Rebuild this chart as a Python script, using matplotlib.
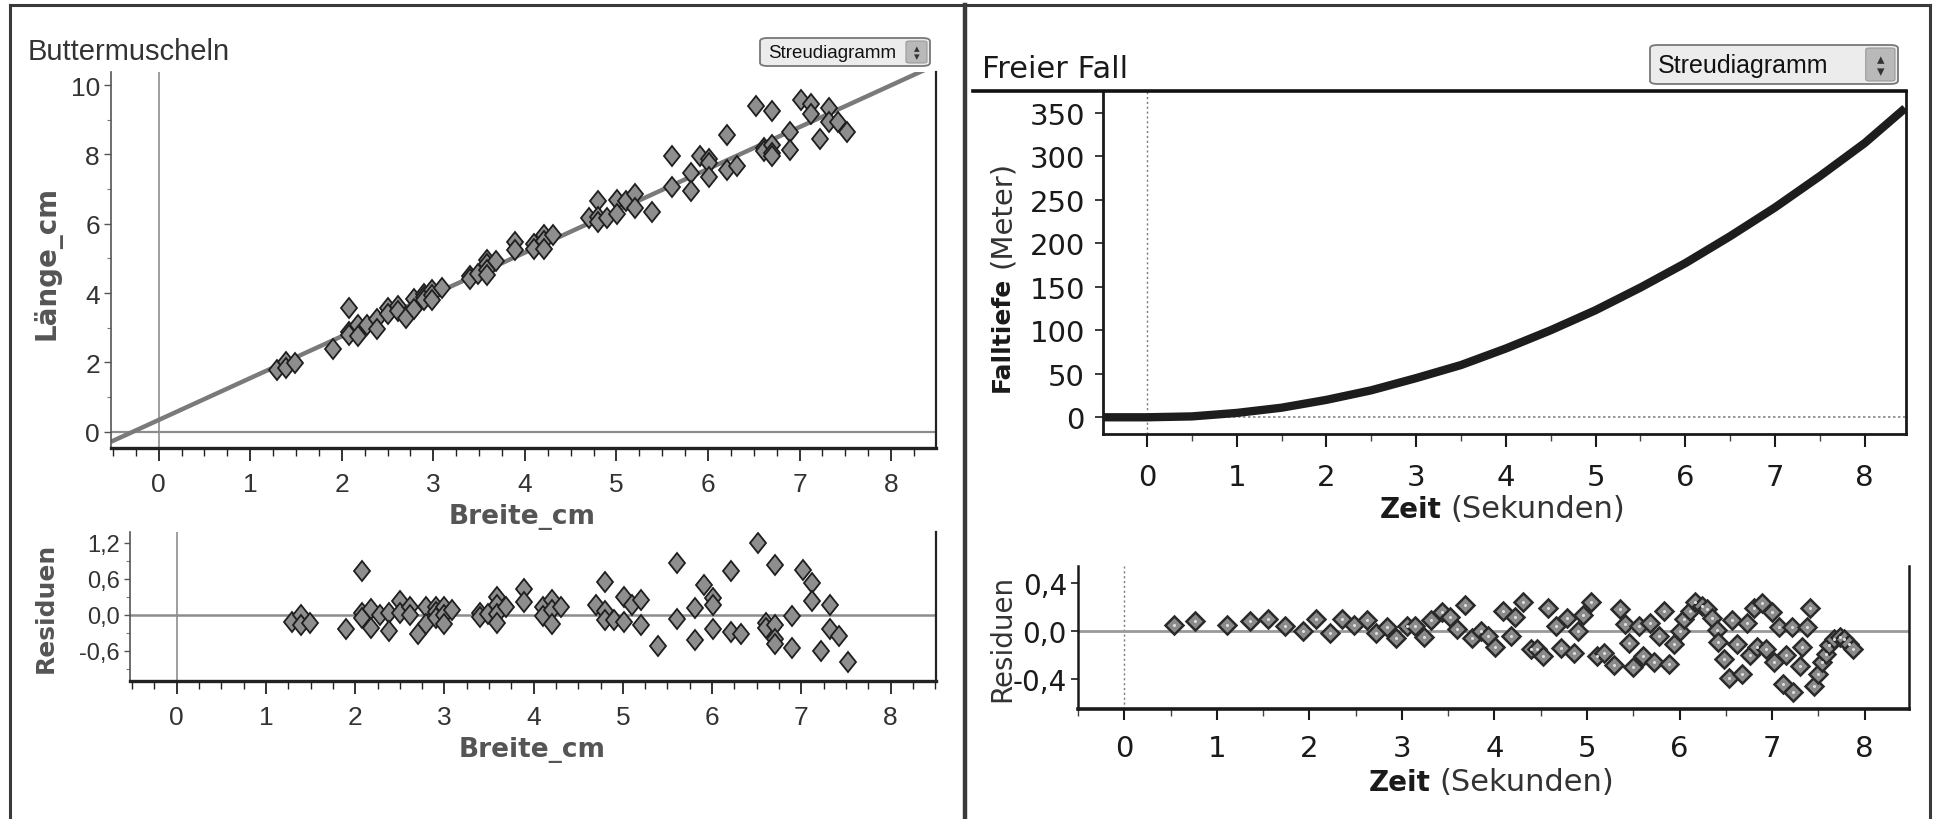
import matplotlib
matplotlib.use("Agg")
import matplotlib.pyplot as plt
from matplotlib.lines import Line2D
from matplotlib.markers import MarkerStyle
from matplotlib.patches import FancyBboxPatch
from matplotlib.ticker import FixedLocator, MultipleLocator
from matplotlib.transforms import Affine2D

# --- Daten: Buttermuscheln ---
breite = [1.29, 1.39, 1.39, 1.49, 1.90, 2.08, 2.08, 2.08, 2.18, 2.18, 2.28, 2.38, 2.38,
          2.50, 2.50, 2.61, 2.61, 2.70, 2.79, 2.79, 2.90, 2.90, 2.90, 2.99, 2.99, 2.99,
          3.09, 3.40, 3.40, 3.49, 3.59, 3.59, 3.59, 3.59, 3.69, 3.89, 3.89, 4.10, 4.10,
          4.21, 4.21, 4.21, 4.31, 4.70, 4.80, 4.80, 4.80, 4.90, 5.01, 5.01, 5.10, 5.20,
          5.20, 5.39, 5.61, 5.61, 5.81, 5.81, 5.91, 6.01, 6.01, 6.01, 6.21, 6.21, 6.32,
          6.52, 6.61, 6.61, 6.70, 6.70, 6.70, 6.70, 6.90, 6.90, 7.02, 7.12, 7.12, 7.22,
          7.32, 7.32, 7.42, 7.52]
laenge = [1.78, 2.01, 1.85, 1.99, 2.39, 3.58, 2.89, 2.80, 3.07, 2.76, 3.09, 3.25, 2.95,
          3.58, 3.39, 3.62, 3.49, 3.29, 3.83, 3.55, 3.98, 3.89, 3.79, 4.08, 3.95, 3.80,
          4.16, 4.48, 4.40, 4.56, 4.96, 4.83, 4.68, 4.53, 4.92, 5.46, 5.24, 5.42, 5.28,
          5.67, 5.51, 5.27, 5.67, 6.17, 6.67, 6.19, 6.04, 6.16, 6.69, 6.28, 6.67, 6.87,
          6.46, 6.34, 7.97, 7.05, 7.47, 6.94, 7.97, 7.87, 7.76, 7.35, 8.57, 7.56, 7.66,
          9.40, 8.18, 8.11, 9.26, 8.26, 8.03, 7.95, 8.65, 8.12, 9.56, 9.47, 9.17, 8.46,
          9.35, 8.94, 8.95, 8.64]
residuen = [-0.11, 0.00, -0.16, -0.14, -0.24, 0.73, 0.04, -0.05, 0.10, -0.21, 0.00, 0.04, -0.26,
            0.23, 0.04, 0.13, 0.00, -0.31, 0.13, -0.15, 0.14, 0.05, -0.05, 0.13, 0.00, -0.15,
            0.09, 0.04, -0.04, 0.01, 0.29, 0.16, 0.01, -0.14, 0.13, 0.43, 0.21, 0.13, -0.01,
            0.25, 0.09, -0.15, 0.13, 0.16, 0.54, 0.06, -0.09, -0.09, 0.30, -0.11, 0.17, 0.25,
            -0.16, -0.51, 0.86, -0.06, 0.12, -0.41, 0.50, 0.28, 0.17, -0.24, 0.73, -0.28, -0.31,
            1.19, -0.14, -0.21, 0.83, -0.17, -0.40, -0.48, -0.02, -0.55, 0.75, 0.53, 0.23, -0.60,
            0.17, -0.24, -0.35, -0.78]
gerade_x = [-0.52, 8.49]
gerade_y = [-0.29, 10.59]

links_yticks = [0, 2, 4, 6, 8, 10]
links_xticks = [0, 1, 2, 3, 4, 5, 6, 7, 8]
links_res_ticks = [-0.6, 0.0, 0.6, 1.2]
links_res_labels = ["-0,6", "0,0", "0,6", "1,2"]

# --- Daten: Freier Fall ---
zeit = [-0.5, 0, 0.5, 1, 1.5, 2, 2.5, 3, 3.5, 4, 4.5, 5, 5.5, 6, 6.5, 7, 7.5, 8, 8.45]
tiefe = [0, 0, 1, 5, 11, 20, 31, 45, 60, 79, 100, 123, 149, 177, 208, 241, 277, 315, 355]

zeit_res = [0.54, 0.76, 1.11, 1.36, 1.55, 1.74, 1.93, 2.07, 2.22, 2.35, 2.48, 2.62, 2.72,
            2.84, 2.94, 3.05, 3.14, 3.24, 3.32, 3.43, 3.52, 3.60, 3.68, 3.76, 3.85, 3.93,
            4.01, 4.09, 4.18, 4.22, 4.31, 4.39, 4.46, 4.53, 4.58, 4.66, 4.72, 4.78, 4.86,
            4.90, 4.96, 5.04, 5.11, 5.18, 5.29, 5.36, 5.41, 5.45, 5.50, 5.56, 5.61, 5.68,
            5.72, 5.78, 5.83, 5.89, 5.94, 6.00, 6.05, 6.11, 6.17, 6.24, 6.30, 6.35, 6.40,
            6.42, 6.48, 6.53, 6.57, 6.62, 6.67, 6.73, 6.76, 6.80, 6.84, 6.89, 6.94, 7.00,
            7.02, 7.08, 7.12, 7.15, 7.22, 7.23, 7.30, 7.32, 7.38, 7.41, 7.45, 7.50, 7.54,
            7.58, 7.62, 7.67, 7.73, 7.78, 7.83, 7.88]
res_fall = [0.05, 0.08, 0.05, 0.08, 0.10, 0.04, 0.00, 0.10, -0.02, 0.10, 0.05, 0.09, -0.02,
            0.03, -0.06, 0.04, 0.04, -0.05, 0.09, 0.16, 0.12, 0.02, 0.22, -0.06, 0.00, -0.04,
            -0.13, 0.17, -0.04, 0.12, 0.24, -0.15, -0.15, -0.21, 0.19, 0.04, -0.14, 0.11, -0.18,
            0.00, 0.13, 0.24, -0.21, -0.18, -0.28, 0.18, 0.06, -0.10, -0.30, 0.04, -0.21, 0.07,
            -0.26, -0.04, 0.17, -0.27, -0.11, 0.00, 0.10, 0.17, 0.24, 0.21, 0.18, 0.11, 0.01,
            -0.09, -0.23, -0.39, 0.09, -0.11, -0.36, 0.07, -0.20, 0.19, -0.13, 0.23, -0.15, 0.16,
            -0.26, 0.03, -0.44, -0.20, 0.03, -0.51, -0.29, -0.13, 0.03, 0.19, -0.46, -0.36, -0.26,
            -0.19, -0.12, -0.07, -0.05, -0.07, -0.11, -0.15]

rechts_yticks = [0, 50, 100, 150, 200, 250, 300, 350]
rechts_res_ticks = [-0.4, 0.0, 0.4]
rechts_res_labels = ["-0,4", "0,0", "0,4"]

W, H = 1934, 820


def box(x0, y0, x1, y1):
    return [x0 / W, 1 - y1 / H, (x1 - x0) / W, (y1 - y0) / H]


def fx(x):
    return x / W


def fy(y):
    return 1 - y / H


fig = plt.figure(figsize=(W / 100, H / 100), dpi=100)
fig.patch.set_facecolor("white")

LIB = "Liberation Sans"
DJV = "DejaVu Sans"

# leicht gestauchte Raute wie im Original
raute = MarkerStyle("D", transform=Affine2D().scale(0.82, 1.05))

# Rahmen
for xs, ys, lw in [([10, 1930], [6, 6], 2.2), ([10, 10], [6, 820], 2.2),
                   ([964.5, 964.5], [6, 820], 3.2), ([1930, 1930], [6, 820], 2.2)]:
    fig.add_artist(Line2D([fx(v) for v in xs], [fy(v) for v in ys], color="#3a3a3a", lw=lw))


def dropdown(x0, y0, x1, y1, size):
    fig.add_artist(FancyBboxPatch((fx(x0), fy(y1)), fx(x1 - x0), (y1 - y0) / H,
                                  boxstyle="round,pad=0,rounding_size=0.004",
                                  fc="#ececec", ec="#777777", lw=1.3, transform=fig.transFigure))
    aw = (y1 - y0) * 0.75
    fig.add_artist(FancyBboxPatch((fx(x1 - aw - 3), fy(y1 - 3)), fx(aw), (y1 - y0 - 6) / H,
                                  boxstyle="round,pad=0,rounding_size=0.002",
                                  fc="#b9b9b9", ec="#9a9a9a", lw=0.8, transform=fig.transFigure))
    xm = fx(x1 - aw / 2 - 3)
    fig.text(xm, fy(y0 + (y1 - y0) * 0.36), "\u25b4", ha="center", va="center",
             fontsize=size * 0.6, color="#333333", family=DJV)
    fig.text(xm, fy(y0 + (y1 - y0) * 0.66), "\u25be", ha="center", va="center",
             fontsize=size * 0.6, color="#333333", family=DJV)
    fig.text(fx(x0 + 8), fy((y0 + y1) / 2), "Streudiagramm", ha="left", va="center",
             fontsize=size, color="#111111", family=LIB)


# ===================== Links oben =====================
ax1 = fig.add_axes(box(111, 73, 936, 449))
ax1.set_xlim(-0.52, 8.49)
ax1.set_ylim(-0.47, 10.38)
ax1.axvline(0, color="#8d8d8d", lw=1.2, zorder=1)
ax1.axhline(0, color="#8d8d8d", lw=1.6, zorder=1)
ax1.plot(gerade_x, gerade_y, color="#7a7a7a", lw=3.2, zorder=2, solid_capstyle="butt")
ax1.plot(breite, laenge, ls="none", marker=raute, ms=10, mfc="#8e8e8e", mec="#1e1e1e",
         mew=1.3, zorder=3)
ax1.xaxis.set_major_locator(FixedLocator(links_xticks))
ax1.xaxis.set_minor_locator(MultipleLocator(0.25))
ax1.yaxis.set_major_locator(FixedLocator(links_yticks))
ax1.yaxis.set_minor_locator(MultipleLocator(1))
ax1.spines["top"].set_visible(False)
ax1.spines["left"].set_color("#555555")
ax1.spines["left"].set_linewidth(1.2)
ax1.spines["bottom"].set_color("#222222")
ax1.spines["bottom"].set_linewidth(2.4)
ax1.spines["right"].set_color("#222222")
ax1.spines["right"].set_linewidth(1.6)
ax1.tick_params(axis="x", which="major", length=9, width=1.3, color="#222222", pad=8,
                labelsize=19, labelcolor="#333333")
ax1.tick_params(axis="x", which="minor", length=6, width=1.0, color="#222222")
ax1.tick_params(axis="y", which="major", length=5, width=1.0, color="#555555", pad=3,
                labelsize=19, labelcolor="#333333")
ax1.tick_params(axis="y", which="minor", length=3, width=0.8, color="#777777")
for lab in ax1.get_xticklabels() + ax1.get_yticklabels():
    lab.set_family(LIB)
fig.text(fx(28), fy(52), "Buttermuscheln", ha="left", va="center", fontsize=21,
         color="#333333", family=LIB)
fig.text(fx(47), fy(263), "Länge_cm", ha="center", va="center", rotation=90,
         fontsize=20, fontweight="bold", color="#555555", family=DJV)
fig.text(fx(522), fy(517), "Breite_cm", ha="center", va="center",
         fontsize=19, fontweight="bold", color="#555555", family=DJV)
dropdown(760, 39, 930, 67, 13.5)

# ===================== Links unten =====================
ax2 = fig.add_axes(box(129.5, 533, 936, 682))
ax2.set_xlim(-0.53, 8.51)
ax2.set_ylim(-1.1, 1.38)
ax2.axvline(0, color="#8d8d8d", lw=1.2, zorder=1)
ax2.axhline(0, color="#8d8d8d", lw=1.8, zorder=1)
ax2.plot(breite, residuen, ls="none", marker=raute, ms=10, mfc="#8e8e8e", mec="#1e1e1e",
         mew=1.3, zorder=3)
ax2.xaxis.set_major_locator(FixedLocator(links_xticks))
ax2.xaxis.set_minor_locator(MultipleLocator(0.25))
ax2.yaxis.set_major_locator(FixedLocator(links_res_ticks))
ax2.yaxis.set_minor_locator(MultipleLocator(0.3))
ax2.set_yticklabels(links_res_labels)
ax2.spines["top"].set_visible(False)
ax2.spines["left"].set_color("#555555")
ax2.spines["left"].set_linewidth(1.2)
ax2.spines["bottom"].set_color("#222222")
ax2.spines["bottom"].set_linewidth(2.4)
ax2.spines["right"].set_color("#222222")
ax2.spines["right"].set_linewidth(1.6)
ax2.tick_params(axis="x", which="major", length=9, width=1.3, color="#222222", pad=8,
                labelsize=19, labelcolor="#333333")
ax2.tick_params(axis="x", which="minor", length=6, width=1.0, color="#222222")
ax2.tick_params(axis="y", which="major", length=4, width=1.0, color="#555555", pad=3,
                labelsize=17, labelcolor="#333333")
ax2.tick_params(axis="y", which="minor", length=3, width=0.8, color="#777777")
for lab in ax2.get_xticklabels() + ax2.get_yticklabels():
    lab.set_family(LIB)
fig.text(fx(46), fy(608), "Residuen", ha="center", va="center", rotation=90,
         fontsize=18, fontweight="bold", color="#555555", family=DJV)
fig.text(fx(532), fy(750), "Breite_cm", ha="center", va="center",
         fontsize=19, fontweight="bold", color="#555555", family=DJV)

# ===================== Rechts oben =====================
ax3 = fig.add_axes(box(1103, 92, 1906, 435))
ax3.set_xlim(-0.49, 8.46)
ax3.set_ylim(-19.2, 374.8)
ax3.axvline(0, color="#777777", lw=1.0, ls=(0, (1.5, 2)), zorder=1)
ax3.axhline(0, color="#888888", lw=1.2, ls=(0, (1.5, 1.5)), zorder=1)
ax3.plot(zeit, tiefe, color="#1d1d1d", lw=6, zorder=3, solid_capstyle="butt")
ax3.xaxis.set_major_locator(FixedLocator(links_xticks))
ax3.xaxis.set_minor_locator(MultipleLocator(0.5))
ax3.yaxis.set_major_locator(FixedLocator(rechts_yticks))
ax3.spines["top"].set_visible(False)
for s in ["left", "bottom", "right"]:
    ax3.spines[s].set_color("#1a1a1a")
    ax3.spines[s].set_linewidth(2.0)
ax3.tick_params(axis="x", which="major", length=9, width=1.5, color="#1a1a1a", pad=12,
                labelsize=21, labelcolor="#1a1a1a")
ax3.tick_params(axis="x", which="minor", length=5, width=1.0, color="#444444")
ax3.tick_params(axis="y", which="major", length=6, width=1.2, color="#1a1a1a", pad=7,
                labelsize=21, labelcolor="#1a1a1a")
for lab in ax3.get_xticklabels() + ax3.get_yticklabels():
    lab.set_family(DJV)
fig.add_artist(Line2D([fx(973), fx(1906)], [fy(92), fy(92)], color="#111111", lw=2.6))
fig.text(fx(982), fy(70), "Freier Fall", ha="left", va="center", fontsize=22,
         color="#1a1a1a", family=DJV)
fig.text(fx(1002), fy(392), "Falltiefe", ha="center", va="bottom", rotation=90,
         fontsize=18, fontweight="bold", color="#1a1a1a", family=DJV)
fig.text(fx(1002), fy(268), "(Meter)", ha="center", va="bottom", rotation=90,
         fontsize=21, color="#333333", family=DJV)
fig.text(fx(1442), fy(510), "Zeit", ha="right", va="center",
         fontsize=20, fontweight="bold", color="#1a1a1a", family=DJV)
fig.text(fx(1450), fy(510), "(Sekunden)", ha="left", va="center",
         fontsize=22, color="#333333", family=DJV)
dropdown(1650, 46, 1898, 85, 18)

# ===================== Rechts unten =====================
ax4 = fig.add_axes(box(1078, 567, 1909, 710))
ax4.set_xlim(-0.50, 8.48)
ax4.set_ylim(-0.648, 0.54)
ax4.axvline(0, color="#777777", lw=1.0, ls=(0, (1.5, 2)), zorder=1)
ax4.axhline(0, color="#999999", lw=2.0, zorder=1)
ax4.plot(zeit_res, res_fall, ls="none", marker="D", ms=9.5, mfc="#8a8a8a", mec="#2a2a2a",
         mew=1.8, zorder=3)
ax4.plot(zeit_res, res_fall, ls="none", marker="o", ms=2.2, mfc="#e0e0e0", mec="none",
         zorder=4)
ax4.xaxis.set_major_locator(FixedLocator(links_xticks))
ax4.xaxis.set_minor_locator(MultipleLocator(0.5))
ax4.yaxis.set_major_locator(FixedLocator(rechts_res_ticks))
ax4.set_yticklabels(rechts_res_labels)
ax4.spines["top"].set_visible(False)
for s in ["left", "bottom", "right"]:
    ax4.spines[s].set_color("#1a1a1a")
    ax4.spines[s].set_linewidth(1.8)
ax4.spines["bottom"].set_linewidth(2.6)
ax4.tick_params(axis="x", which="major", length=8, width=1.5, color="#1a1a1a", pad=10,
                labelsize=21, labelcolor="#1a1a1a")
ax4.tick_params(axis="x", which="minor", length=5, width=1.0, color="#444444")
ax4.tick_params(axis="y", which="major", length=5, width=1.2, color="#1a1a1a", pad=3,
                labelsize=20, labelcolor="#1a1a1a")
for lab in ax4.get_xticklabels() + ax4.get_yticklabels():
    lab.set_family(DJV)
# im Original liegt die Achsenbeschriftung halb über den Tick-Beschriftungen
fig.text(fx(1002), fy(638), "Residuen", ha="center", va="center", rotation=90,
         fontsize=20, color="#333333", family=DJV)
fig.text(fx(1431), fy(783), "Zeit", ha="right", va="center",
         fontsize=20, fontweight="bold", color="#1a1a1a", family=DJV)
fig.text(fx(1439), fy(783), "(Sekunden)", ha="left", va="center",
         fontsize=22, color="#333333", family=DJV)

fig.savefig("out.png", dpi=100, facecolor="white")
